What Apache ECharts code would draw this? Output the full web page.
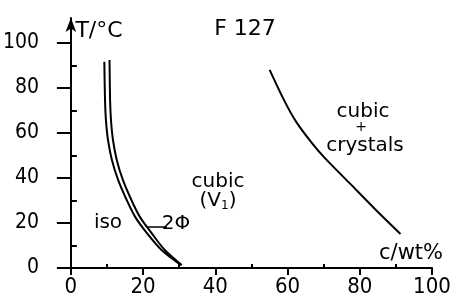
<!DOCTYPE html>
<html>
<head>
<meta charset="utf-8">
<script src="https://cdn.jsdelivr.net/npm/echarts@6/dist/echarts.min.js"></script>
<style>
  html, body { margin: 0; padding: 0; background: #fff; }
  #myChart { width: 454px; height: 302px; }
</style>
</head>
<body>
<div id="myChart"></div>
<script>
// iso / 2-phase boundary (left line)
var isoX = [9.26, 9.45, 9.7, 10.27, 11.36, 13.08, 15.45, 17.8, 21.0, 25.1, 30.5];
var isoY = [91.6, 74.7, 65.8, 56.9, 48.0, 39.1, 30.2, 22.7, 15.6, 8.0, 1.3];
// 2-phase / cubic boundary (right line of the pair)
var phaseX = [10.7, 10.85, 11.1, 11.65, 12.7, 14.4, 16.75, 19.1, 22.3, 26.0, 30.7];
var phaseY = [92.4, 74.7, 65.8, 56.9, 48.0, 39.1, 30.2, 22.7, 15.6, 8.0, 1.3];
// cubic / cubic + crystals boundary
var cubicX = [55.04, 59.2, 62.4, 66.49, 70.03, 77.11, 84.47, 91.28];
var cubicY = [88.0, 74.0, 64.89, 56.0, 49.33, 37.78, 25.78, 15.11];
// leader line of the 2Phi label
var leaderX = [21, 26.6];
var leaderY = [18.2, 18.2];

var xMajor = [0, 20, 40, 60, 80, 100];
var xMinor = [10, 30, 50, 70, 90];
var yMajor = [0, 20, 40, 60, 80, 100];
var yMinor = [10, 30, 50, 70, 90];

function pairs(xs, ys) {
  var out = [];
  for (var i = 0; i < xs.length; i++) out.push([xs[i], ys[i]]);
  return out;
}

var numFont = "'DejaVu Sans Condensed', sans-serif";
var txtFont = "'DejaVu Sans', sans-serif";

function lineSeries(xs, ys, w) {
  return {
    type: "line",
    data: pairs(xs, ys),
    showSymbol: false,
    smooth: 0.3,
    lineStyle: { color: "#000", width: w },
    silent: true
  };
}

function label(text, x, y, size) {
  return {
    type: "text",
    x: x,
    y: y,
    style: {
      text: text,
      font: size + "px " + txtFont,
      fill: "#000",
      align: "center",
      verticalAlign: "middle"
    }
  };
}

var myChart = echarts.init(document.getElementById("myChart"));
myChart.setOption({
  animation: false,
  grid: { left: 54, right: 22, top: 18, bottom: 34 },
  xAxis: [
    {
      type: "value", min: -3, max: 100,
      splitLine: { show: false },
      axisLine: { lineStyle: { color: "#000", width: 2 } },
      axisTick: { customValues: xMajor, length: 7, lineStyle: { color: "#000", width: 2 } },
      axisLabel: { customValues: xMajor, margin: 8, color: "#000", fontSize: 22, fontFamily: numFont }
    },
    {
      type: "value", min: -3, max: 100,
      splitLine: { show: false },
      axisLine: { show: false },
      axisTick: { customValues: xMinor, length: 4, lineStyle: { color: "#000", width: 2 } },
      axisLabel: { show: false }
    }
  ],
  yAxis: [
    {
      type: "value", min: 0, max: 111,
      splitLine: { show: false },
      axisLine: { show: true, symbol: ["none", "arrow"], symbolSize: [8, 14], lineStyle: { color: "#000", width: 2 } },
      axisTick: { show: true, customValues: yMajor, length: 14, lineStyle: { color: "#000", width: 2 } },
      axisLabel: { customValues: yMajor, margin: 21, color: "#000", fontSize: 21, fontFamily: numFont }
    },
    {
      type: "value", min: 0, max: 111,
      splitLine: { show: false },
      axisLine: { show: false },
      axisTick: { show: true, customValues: yMinor, length: 6, lineStyle: { color: "#000", width: 2 } },
      axisLabel: { show: false }
    }
  ],
  series: [
    lineSeries(isoX, isoY, 2),
    lineSeries(phaseX, phaseY, 2),
    lineSeries(cubicX, cubicY, 2),
    lineSeries(leaderX, leaderY, 1.5)
  ],
  graphic: [
    label("T/°C", 99, 31, 22),
    label("F 127", 245, 29, 22),
    label("cubic", 363, 112, 20),
    label("+", 361, 127, 14),
    label("crystals", 365, 146, 20),
    label("c/wt%", 411, 254, 21),
    label("cubic", 218, 182, 20),
    {
      type: "text",
      x: 218,
      y: 201,
      style: {
        text: "{a|(V}{s|1}{a|)}",
        align: "center",
        verticalAlign: "middle",
        rich: {
          a: { font: "20px " + txtFont, fill: "#000" },
          s: { font: "12px " + txtFont, fill: "#000", padding: [10, 0, 0, 0] }
        }
      }
    },
    label("iso", 108, 223, 20),
    label("2Φ", 176, 224, 20)
  ]
});
</script>
</body>
</html>
